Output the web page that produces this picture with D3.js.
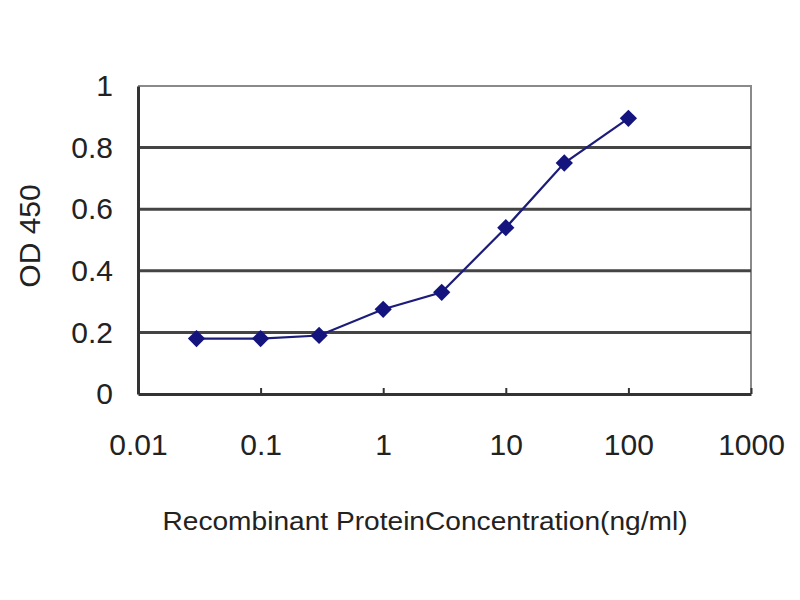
<!DOCTYPE html>
<html lang="en">
<head>
<meta charset="utf-8">
<title>OD 450 vs Recombinant Protein Concentration</title>
<script src="https://cdnjs.cloudflare.com/ajax/libs/d3/7.8.5/d3.min.js"></script>
<style>
  body { margin: 0; background: #fff; }
  text { font-family: "Liberation Sans", Arial, sans-serif; fill: #222; }
</style>
</head>
<body>
<script>
// concentration (ng/ml) and measured OD 450
var conc = [0.03, 0.1, 0.3, 1, 3, 10, 30, 100];
var od = [0.18, 0.18, 0.19, 0.275, 0.33, 0.54, 0.75, 0.895];
var xTicks = [0.01, 0.1, 1, 10, 100, 1000];
var xTickLabels = ["0.01", "0.1", "1", "10", "100", "1000"];
var yTicks = [0, 0.2, 0.4, 0.6, 0.8, 1];
var yTickLabels = ["0", "0.2", "0.4", "0.6", "0.8", "1"];

var W = 800, H = 600;
var margin = {top: 86, right: 49, bottom: 206, left: 138};
var w = W - margin.left - margin.right,
    h = H - margin.top - margin.bottom;

var svg = d3.select("body").append("svg")
    .attr("width", W)
    .attr("height", H);

var g = svg.append("g")
    .attr("transform", "translate(" + margin.left + "," + margin.top + ")");

var x = d3.scaleLog().domain([0.01, 1000]).range([0, w]);
var y = d3.scaleLinear().domain([0, 1]).range([h, 0]);

// top and right border, lighter gray
g.append("path")
    .attr("d", "M0,0H" + w + "V" + h)
    .attr("fill", "none")
    .attr("stroke", "#8a8a8a")
    .attr("stroke-width", 2);

// horizontal gridlines
g.selectAll("line.grid")
    .data(yTicks.filter(function(d) { return d > 0 && d < 1; }))
    .enter().append("line")
    .attr("class", "grid")
    .attr("x1", 0).attr("x2", w)
    .attr("y1", function(d) { return y(d); })
    .attr("y2", function(d) { return y(d); })
    .attr("stroke", "#444")
    .attr("stroke-width", 3);

// y axis
var yAxis = d3.axisLeft(y)
    .tickValues(yTicks)
    .tickSize(0)
    .tickPadding(25)
    .tickFormat(function(d, i) { return yTickLabels[i]; });
var ya = g.append("g").call(yAxis);
ya.select(".domain").attr("stroke", "#333").attr("stroke-width", 3);
ya.selectAll("text")
    .attr("font-size", "30px")
    .attr("font-family", "Liberation Sans, Arial, sans-serif")
    .attr("fill", "#222");

// x axis with small inward ticks
var xAxis = d3.axisBottom(x)
    .tickValues(xTicks)
    .tickSizeInner(-6)
    .tickSizeOuter(0)
    .tickPadding(40)
    .tickFormat(function(d, i) { return xTickLabels[i]; });
var xa = g.append("g")
    .attr("transform", "translate(0," + h + ")")
    .call(xAxis);
xa.select(".domain").attr("stroke", "#333").attr("stroke-width", 3);
xa.selectAll(".tick line").attr("stroke", "#333").attr("stroke-width", 2);
xa.selectAll("text")
    .attr("font-size", "30px")
    .attr("font-family", "Liberation Sans, Arial, sans-serif")
    .attr("fill", "#222");

// data line
var pts = conc.map(function(c, i) { return [c, od[i]]; });
var line = d3.line()
    .x(function(d) { return x(d[0]); })
    .y(function(d) { return y(d[1]); });

g.append("path")
    .datum(pts)
    .attr("d", line)
    .attr("fill", "none")
    .attr("stroke", "#1c1c7a")
    .attr("stroke-width", 2.2);

// diamond markers
g.selectAll("path.pt")
    .data(pts)
    .enter().append("path")
    .attr("class", "pt")
    .attr("d", d3.symbol().type(d3.symbolDiamond2).size(190))
    .attr("transform", function(d) { return "translate(" + x(d[0]) + "," + y(d[1]) + ")"; })
    .attr("fill", "#14147e");

// axis titles
svg.append("text")
    .attr("x", 425)
    .attr("y", 530)
    .attr("text-anchor", "middle")
    .attr("font-size", "25px")
    .attr("textLength", 525)
    .attr("lengthAdjust", "spacingAndGlyphs")
    .text("Recombinant ProteinConcentration(ng/ml)");

svg.append("text")
    .attr("transform", "translate(40,236) rotate(-90)")
    .attr("text-anchor", "middle")
    .attr("font-size", "30px")
    .text("OD 450");
</script>
</body>
</html>
